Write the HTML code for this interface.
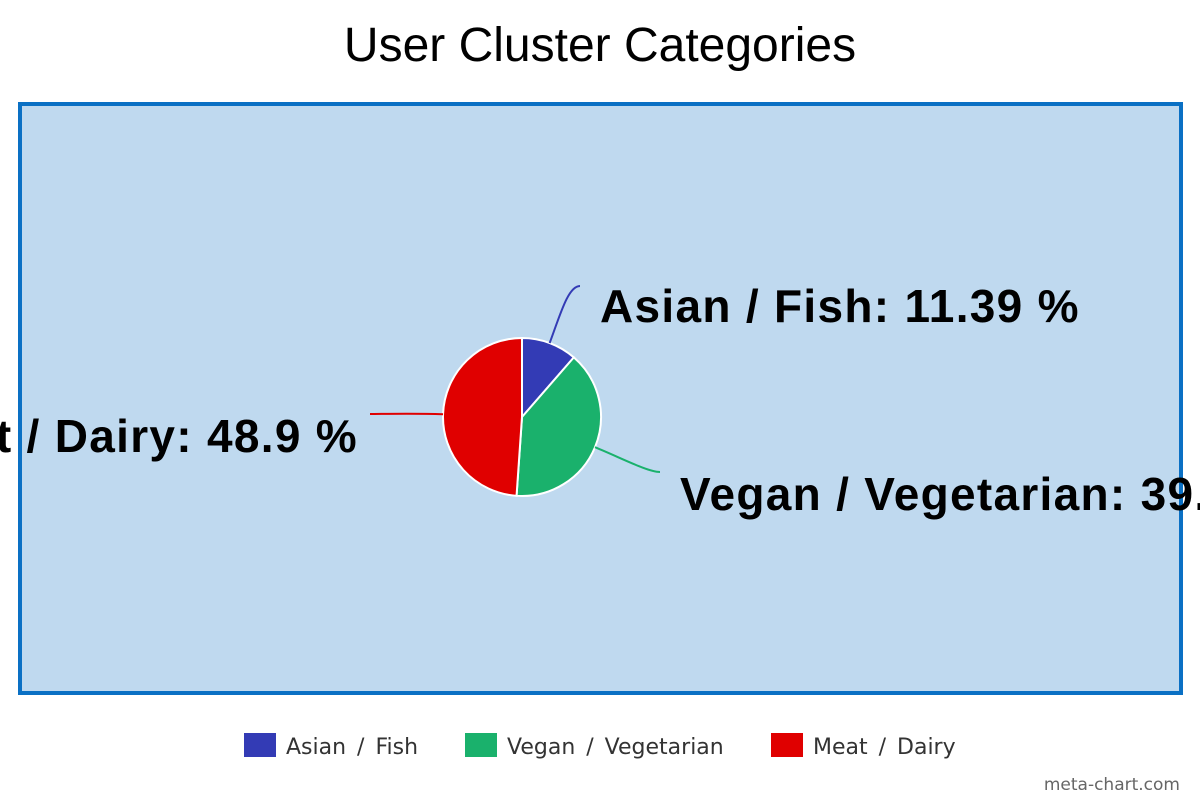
<!DOCTYPE html>
<html><head><meta charset="utf-8"><style>
body{margin:0;width:1200px;height:800px;overflow:hidden;background:#fff;font-family:"Liberation Sans",sans-serif}
</style></head><body>
<svg width="1200" height="800">
<text x="600" y="61" text-anchor="middle" font-size="48" fill="#000">User Cluster Categories</text>
<rect x="20" y="104" width="1161" height="589" fill="#bfd9ef" stroke="#0a70c4" stroke-width="4"/>
<g id="slices"></g>
<g id="labels" font-weight="bold" font-size="46" letter-spacing="1.3" fill="#000"></g>
<g font-size="22" fill="#333" font-family="DejaVu Sans, sans-serif">
<rect x="244" y="733" width="32" height="24" fill="#333bb5"/>
<text x="286" y="754" word-spacing="4">Asian / Fish</text>
<rect x="465" y="733" width="32" height="24" fill="#1ab16c"/>
<text x="507" y="754" word-spacing="4">Vegan / Vegetarian</text>
<rect x="771" y="733" width="32" height="24" fill="#e00000"/>
<text x="813" y="754" word-spacing="4">Meat / Dairy</text>
</g>
<text x="1180" y="790" text-anchor="end" font-size="17" fill="#666" font-family="DejaVu Sans, sans-serif">meta-chart.com</text>
</svg>
<script>
const categories=["Asian / Fish","Vegan / Vegetarian","Meat / Dairy"];
const values=[11.39,39.71,48.9];
const labelText=["11.39 %","39.71 %","48.9 %"];
const colors=["#333bb5","#1ab16c","#e00000"];
const cx=522,cy=417,r=79;
const ns="http://www.w3.org/2000/svg";
const total=values.reduce((a,b)=>a+b,0);
const sg=document.getElementById('slices'),lg=document.getElementById('labels');
const labelPos=[[600,322,'start'],[680,510,'start'],[358,452,'end']];
let a0=0;
values.forEach((v,i)=>{
  const a1=a0+v/total*2*Math.PI;
  const pt=(a,rr)=>[cx+rr*Math.sin(a),cy-rr*Math.cos(a)];
  const p0=pt(a0,r),p1=pt(a1,r);
  const path=document.createElementNS(ns,'path');
  path.setAttribute('d',`M${cx},${cy}L${p0[0]},${p0[1]}A${r},${r} 0 ${a1-a0>Math.PI?1:0} 1 ${p1[0]},${p1[1]}Z`);
  path.setAttribute('fill',colors[i]);path.setAttribute('stroke','#fff');path.setAttribute('stroke-width','2');
  
  
  sg.appendChild(path);
  const am=(a0+a1)/2,s=pt(am,r),lp=labelPos[i];
  const ex=lp[2]==='start'?lp[0]-20:lp[0]+12, ey=lp[1]-(i===0?36:38);
  const line=document.createElementNS(ns,'path');
  const mx=pt(am,r+30);
  const hx=ex+(lp[2]==='start'?-12:12);
  line.setAttribute('d',`M${s[0]},${s[1]}C${mx[0]},${mx[1]} ${hx},${ey} ${ex},${ey}`);
  line.setAttribute('fill','none');line.setAttribute('stroke',colors[i]);line.setAttribute('stroke-width','2');
  
  
  sg.appendChild(line);
  const t=document.createElementNS(ns,'text');
  t.setAttribute('x',lp[0]);t.setAttribute('y',lp[1]);t.setAttribute('text-anchor',lp[2]);
  t.textContent=categories[i]+': '+labelText[i];
  
  
  lg.appendChild(t);
  a0=a1;
});
</script>
</body></html>
